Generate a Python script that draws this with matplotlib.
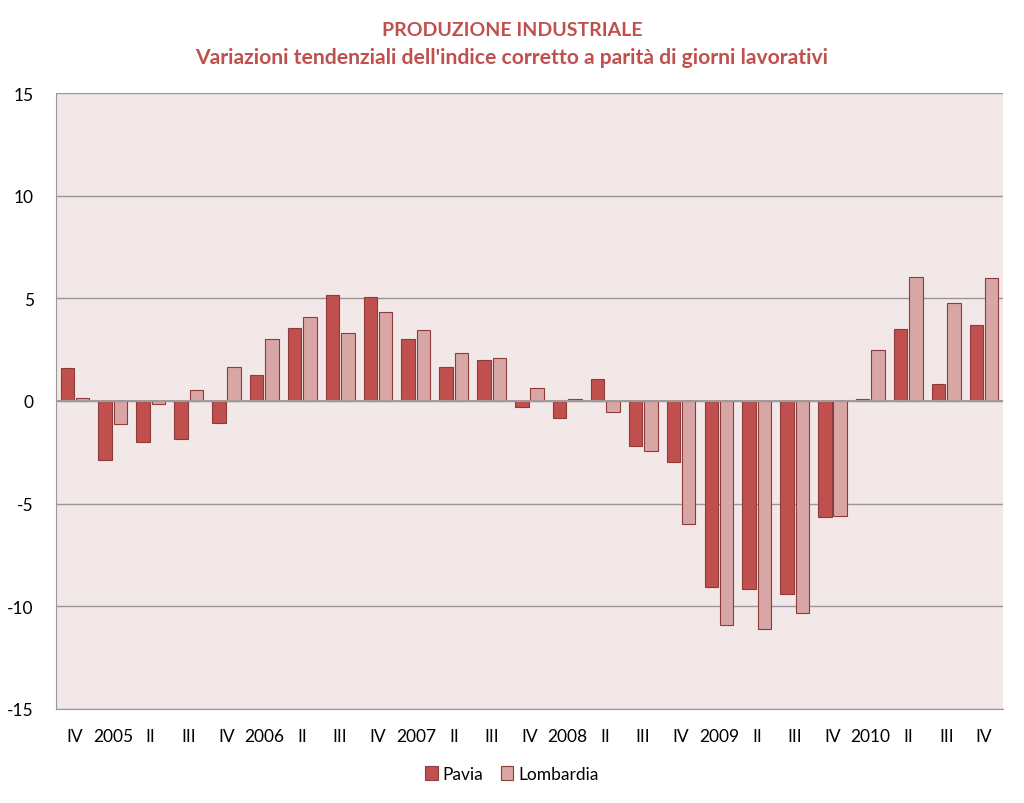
import matplotlib
matplotlib.use("Agg")
import matplotlib.pyplot as plt
import numpy as np

plt.rcParams["font.family"] = ["Lato", "DejaVu Sans"]

# trimestri dal IV 2004 al IV 2010
quarters = ["IV", "2005", "II", "III", "IV", "2006", "II", "III", "IV", "2007",
            "II", "III", "IV", "2008", "II", "III", "IV", "2009", "II", "III",
            "IV", "2010", "II", "III", "IV"]
pavia = [1.59, -2.87, -2.01, -1.83, -1.07, 1.27, 3.56, 5.18, 5.08, 3.02,
         1.67, 2.00, -0.31, -0.84, 1.07, -2.19, -2.99, -9.04, -9.16, -9.42,
         -5.65, 0.08, 3.52, 0.83, 3.70]
lombardia = [0.15, -1.12, -0.13, 0.52, 1.67, 3.02, 4.09, 3.30, 4.32, 3.47,
             2.35, 2.08, 0.65, 0.08, -0.54, -2.42, -6.00, -10.93, -11.12, -10.34,
             -5.62, 2.48, 6.04, 4.77, 6.00]

RED = "#C0504D"
PINK = "#D9A6A6"
EDGE = "#8E3B3B"

fig = plt.figure(figsize=(10.24, 8.04), dpi=100)
ax = fig.add_axes([0.0547, 0.117, 0.9248, 0.766])
ax.set_facecolor("#F2E8E8")

x = np.arange(len(quarters))
w = 0.355
ax.bar(x - w / 2 - 0.025, pavia, width=w, color=RED, edgecolor=EDGE,
       linewidth=0.8, label="Pavia", zorder=3)
ax.bar(x + w / 2 + 0.025, lombardia, width=w, color=PINK, edgecolor=EDGE,
       linewidth=0.8, label="Lombardia", zorder=3)

ax.set_xlim(-0.5, len(quarters) - 0.5)
ax.set_ylim(-15, 15)
ax.set_yticks(range(-15, 16, 5))
ax.set_yticklabels([str(v) for v in range(-15, 16, 5)], fontsize=12.5)
ax.set_xticks(x)
ax.set_xticklabels(quarters, fontsize=12.5)
ax.tick_params(axis="both", length=0)
ax.tick_params(axis="x", pad=14)
ax.tick_params(axis="y", pad=16)

ax.grid(axis="y", color="#9E9696", linewidth=1.0, zorder=0)
ax.axhline(0, color="#A09A9A", linewidth=1.5, zorder=4)
for side in ["top", "right"]:
    ax.spines[side].set_visible(False)
ax.spines["left"].set_color("#9E9696")
ax.spines["bottom"].set_color("#9E9696")

fig.text(0.5, 0.962, "PRODUZIONE INDUSTRIALE", ha="center", va="center",
         color=RED, fontsize=14, fontweight="bold")
fig.text(0.5, 0.928, "Variazioni tendenziali dell'indice corretto a parità di giorni lavorativi",
         ha="center", va="center", color=RED, fontsize=15.2, fontweight="bold")

fig.legend(loc="center", bbox_to_anchor=(0.5, 0.036), ncol=2, frameon=False,
           fontsize=12.5, handlelength=0.7, handleheight=0.9, handletextpad=0.3,
           columnspacing=1.0)

fig.savefig("out.png", dpi=100)
